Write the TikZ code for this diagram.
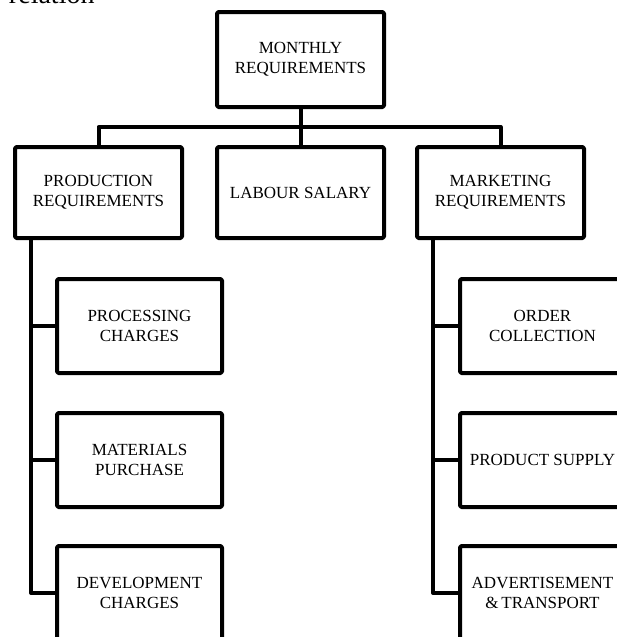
\documentclass[tikz,border=0pt]{standalone}
\usepackage{fontspec}
\setmainfont{Liberation Serif}
\usetikzlibrary{calc}

\begin{document}
\begin{tikzpicture}[x=1pt,y=-1pt,line width=4pt,line join=round,
  box/.style={draw,rounded corners=1.5pt,align=center,inner sep=0pt,outer sep=0pt,
    minimum width=167pt,minimum height=93pt,font=\fontsize{17}{20}\selectfont},
  sub/.style={box,minimum width=165pt,minimum height=94pt}]

\useasboundingbox (0,0) rectangle (617,637);

% Cut-off caption at the top
\node[anchor=base west,inner sep=0pt,font=\fontsize{28}{30}\selectfont] (caption) at (7,4) {relation};

% Top level
\node[box,minimum height=95pt] (monthly) at (300.5,59.5) {MONTHLY\\REQUIREMENTS};

% Second level
\node[box,minimum height=91pt] (production) at (98.5,192.5) {PRODUCTION\\REQUIREMENTS};
\node[box,minimum height=91pt] (labour) at (300.5,192.5) {LABOUR SALARY};
\node[box,minimum height=91pt] (marketing) at (500.5,192.5) {MARKETING\\REQUIREMENTS};

% Production items
\node[sub] (processing) at (139.5,326) {PROCESSING\\CHARGES};
\node[sub] (materials) at (139.5,460) {MATERIALS\\PURCHASE};
\node[sub] (development) at (139.5,593) {DEVELOPMENT\\CHARGES};

% Marketing items
\node[sub] (order) at (542.5,326) {ORDER\\COLLECTION};
\node[sub] (supply) at (542.5,460) {PRODUCT SUPPLY};
\node[sub] (advert) at (542.5,593) {ADVERTISEMENT\\\&\,TRANSPORT};

% Top connectors
\draw (monthly.south) -- (labour.north);
\draw (production.north) -- ++(0,-20) -| (marketing.north);

% Side trunks
\coordinate (ltrunk) at ([xshift=16pt]production.south west);
\coordinate (rtrunk) at ([xshift=16pt]marketing.south west);
\draw (ltrunk) |- (development.west);
\draw (rtrunk) |- (advert.west);
\foreach \n in {processing,materials}
  \draw (\n.west) -- (\n.west -| ltrunk);
\foreach \n in {order,supply}
  \draw (\n.west) -- (\n.west -| rtrunk);

\end{tikzpicture}
\end{document}
